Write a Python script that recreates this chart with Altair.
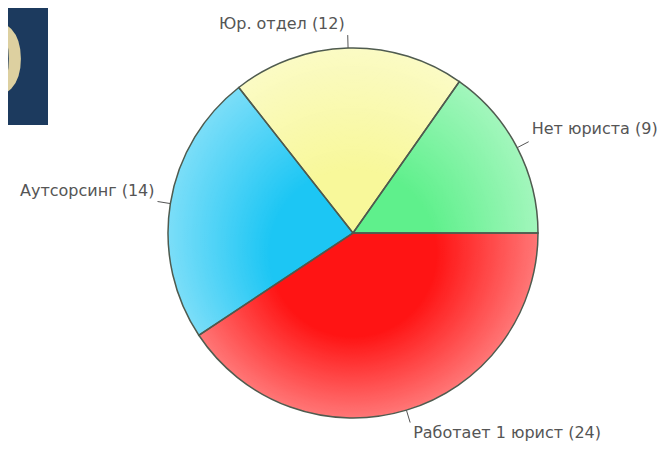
import altair as alt
import pandas as pd
import numpy as np

categories = ["Работает 1 юрист", "Аутсорсинг", "Юр. отдел", "Нет юриста"]
values = [24, 14, 12, 9]
colors = ["#ff1414", "#1cc6f4", "#f8f89a", "#5ff08c"]

# label style (offsets from leader end, alignment)
label_dx = [3, -3, -3, 3]
label_dy = [10.5, -11, -11, -12.5]
label_align = ["left", "right", "right", "left"]

W, H = 652, 433
CX, CY, R, R2 = 345, 225, 185, 198

df = pd.DataFrame({"cat": categories, "value": values, "idx": range(len(values))})
df["label"] = df["cat"] + " (" + df["value"].astype(str) + ")"
total = df["value"].sum()
start = df["value"].cumsum() - df["value"]
mid = (start + df["value"] / 2) / total * 2 * np.pi + np.pi / 2
df["x1"] = CX + R * np.sin(mid)
df["y1"] = CY - R * np.cos(mid)
df["x2"] = CX + R2 * np.sin(mid)
df["y2"] = CY - R2 * np.cos(mid)
df["tx"] = df["x2"] + np.array(label_dx)
df["ty"] = df["y2"] + np.array(label_dy)
df["align"] = label_align

xs = alt.Scale(domain=[0, W], nice=False, zero=False)
ys = alt.Scale(domain=[H, 0], nice=False, zero=False)

theta = alt.Theta("value:Q", stack=True,
                  scale=alt.Scale(range=[np.pi / 2, np.pi / 2 + 2 * np.pi]))

base = alt.Chart(df)

# decorative picture fragment at top-left
deco = pd.DataFrame({"x": [0], "x2": [40], "y": [0], "y2": [117], "t": ["O"], "tx": [-25], "ty": [90]})
deco_rect = alt.Chart(deco).mark_rect(color="#1c3a5e").encode(
    x=alt.X("x:Q", scale=xs, axis=None), x2="x2:Q",
    y=alt.Y("y:Q", scale=ys, axis=None), y2="y2:Q")
deco_text = alt.Chart(deco).mark_text(font="Liberation Serif", fontSize=118, color="#ddd0a0",
                                      align="center", baseline="alphabetic").encode(
    x=alt.X("tx:Q", scale=xs, axis=None), y=alt.Y("ty:Q", scale=ys, axis=None), text="t:N")

fill = base.mark_arc(radius=R).encode(
    theta=theta,
    color=alt.Color("cat:N", scale=alt.Scale(domain=categories, range=colors), legend=None),
    order=alt.Order("idx:Q"),
    x=alt.value(CX), y=alt.value(CY))

shade = alt.Chart(pd.DataFrame({"a": [1]})).mark_arc(
    radius=R, theta=0, theta2=2 * np.pi,
    fill=alt.RadialGradient(
        gradient="radial",
        stops=[alt.GradientStop(color="rgba(255,255,255,0)", offset=0),
               alt.GradientStop(color="rgba(255,255,255,0)", offset=0.45),
               alt.GradientStop(color="rgba(255,255,255,0.42)", offset=1)],
        x1=0.5, y1=0.6, r1=0, x2=0.5, y2=0.5, r2=0.5)
).encode(x=alt.value(CX), y=alt.value(CY))

outline = base.mark_arc(radius=R, filled=False, stroke="#4f5b4f", strokeWidth=1.5).encode(
    theta=theta, order=alt.Order("idx:Q"),
    x=alt.value(CX), y=alt.value(CY))

leaders = base.mark_rule(color="#555555", strokeWidth=1).encode(
    x=alt.X("x1:Q", scale=xs, axis=None), y=alt.Y("y1:Q", scale=ys, axis=None),
    x2="x2:Q", y2="y2:Q")

txt_left = base.transform_filter(alt.datum.align == "left").mark_text(
    font="DejaVu Sans", fontSize=16, color="#555555", align="left", baseline="middle").encode(
    x=alt.X("tx:Q", scale=xs, axis=None), y=alt.Y("ty:Q", scale=ys, axis=None), text="label:N")
txt_right = base.transform_filter(alt.datum.align == "right").mark_text(
    font="DejaVu Sans", fontSize=16, color="#555555", align="right", baseline="middle").encode(
    x=alt.X("tx:Q", scale=xs, axis=None), y=alt.Y("ty:Q", scale=ys, axis=None), text="label:N")

chart = alt.layer(deco_rect, deco_text, fill, shade, outline, leaders, txt_left, txt_right).properties(
    width=W, height=H, padding=0,
    autosize=alt.AutoSizeParams(type="none"),
    background="white"
).configure_view(strokeWidth=0)

chart.save("out.html", embed_options={"renderer": "svg", "actions": False})
